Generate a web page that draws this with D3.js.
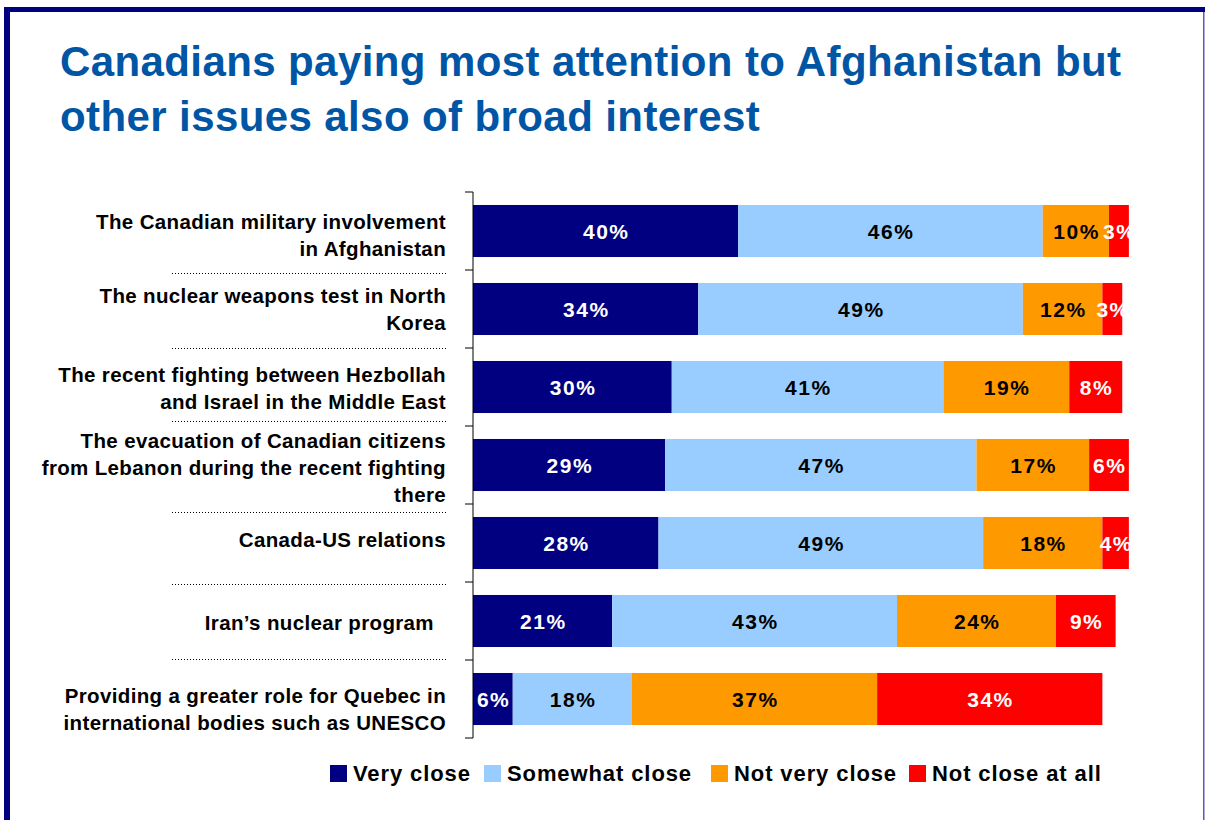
<!DOCTYPE html>
<html>
<head>
<meta charset="utf-8">
<script src="https://cdn.jsdelivr.net/npm/d3@7/dist/d3.min.js"></script>
<style>
  html, body { margin: 0; padding: 0; background: #fff; }
  svg { display: block; font-family: "Liberation Sans", Arial, Helvetica, sans-serif; }
</style>
</head>
<body>
<svg id="chart" width="1205" height="820"></svg>
<script>
// ---- Data ----
const titleLines = ["Canadians paying most attention to Afghanistan but", "other issues also of broad interest"];
const categories = [
  ["The Canadian military involvement", "in Afghanistan"],
  ["The nuclear weapons test in North", "Korea"],
  ["The recent fighting between Hezbollah", "and Israel in the Middle East"],
  ["The evacuation of Canadian citizens", "from Lebanon during the recent fighting", "there"],
  ["Canada-US relations"],
  ["Iran\u2019s nuclear program\u00a0\u00a0"],
  ["Providing a greater role for Quebec in", "international bodies such as UNESCO"]
];
const seriesNames = ["Very close", "Somewhat close", "Not very close", "Not close at all"];
const veryClose      = [40, 34, 30, 29, 28, 21, 6];
const somewhatClose  = [46, 49, 41, 47, 49, 43, 18];
const notVeryClose   = [10, 12, 19, 17, 18, 24, 37];
const notCloseAtAll  = [3, 3, 8, 6, 4, 9, 34];
const seriesColors = ["#000080", "#99ccff", "#ff9900", "#ff0000"];
const labelColors  = ["#ffffff", "#000000", "#000000", "#ffffff"];

// ---- Layout ----
const svg = d3.select("#chart");
const W = 1205, H = 820;
const plot = { left: 473, top: 192, bottom: 738 };

// frame
svg.append("rect").attr("x", 4).attr("y", 7).attr("width", 6).attr("height", H - 7).attr("fill", "#000080");
svg.append("rect").attr("x", 4).attr("y", 7).attr("width", W - 4).attr("height", 5).attr("fill", "#000080");
svg.append("rect").attr("x", 1203).attr("y", 12).attr("width", 1.5).attr("height", H - 12).attr("fill", "#5a5ab4");

// title
svg.append("g").selectAll("text").data(titleLines).join("text")
  .attr("x", 60).attr("y", (d, i) => 76 + i * 55)
  .attr("font-size", 42).attr("font-weight", "bold").attr("fill", "#0055a5")
  .attr("letter-spacing", 0.4)
  .text(d => d);

const idx = d3.range(categories.length);
const y = d3.scaleBand().domain(idx).range([plot.top, plot.bottom]).paddingInner(0.333).paddingOuter(0.1665);
const x = d3.scaleLinear().domain([0, 100]).range([plot.left, plot.left + 662.5]);

const rows = idx.map(i => ({ i, vals: [veryClose[i], somewhatClose[i], notVeryClose[i], notCloseAtAll[i]] }));
const segs = [];
rows.forEach(r => {
  let acc = 0;
  r.vals.forEach((v, s) => { segs.push({ i: r.i, s, x0: acc, x1: acc + v, v }); acc += v; });
});

svg.append("g").selectAll("rect").data(segs).join("rect")
  .attr("x", d => x(d.x0)).attr("y", d => y(d.i))
  .attr("width", d => x(d.x1) - x(d.x0)).attr("height", y.bandwidth())
  .attr("fill", d => seriesColors[d.s]);

svg.append("g").selectAll("text").data(segs).join("text")
  .attr("x", d => (x(d.x0) + x(d.x1)) / 2 + 0.75)
  .attr("y", d => y(d.i) + y.bandwidth() / 2)
  .attr("dy", "0.36em")
  .attr("text-anchor", "middle")
  .attr("font-size", 21).attr("font-weight", "bold").attr("letter-spacing", 1.5)
  .attr("fill", d => labelColors[d.s])
  .text(d => d.v + "%");

// axis line with ticks at category boundaries
const step = y.step();
const boundaries = d3.range(categories.length + 1).map(k => plot.top + k * step);
svg.append("line").attr("x1", plot.left).attr("x2", plot.left).attr("y1", plot.top).attr("y2", plot.bottom)
  .attr("stroke", "#000").attr("stroke-width", 1);
svg.append("g").selectAll("line").data(boundaries).join("line")
  .attr("x1", plot.left - 8).attr("x2", plot.left).attr("y1", d => d).attr("y2", d => d)
  .attr("stroke", "#000").attr("stroke-width", 1);

// dotted separators under labels
const sepOffsets = [3, 0, -5, 8, 2, -1];
svg.append("g").selectAll("line").data(sepOffsets).join("line")
  .attr("x1", 172).attr("x2", 447)
  .attr("y1", (d, k) => boundaries[k + 1] + d + 0.5).attr("y2", (d, k) => boundaries[k + 1] + d + 0.5)
  .attr("stroke", "#000").attr("stroke-width", 1).attr("stroke-dasharray", "1,2");

// category labels
const lineH = 27;
const labelNudge = [4, 0, 1, 3, -3, 2, 10];
const lab = svg.append("g").selectAll("text").data(categories).join("text")
  .attr("text-anchor", "end").attr("font-size", 20.5).attr("font-weight", "bold").attr("fill", "#000")
  .attr("letter-spacing", 0.35)
  .style("white-space", "pre");
lab.each(function (lines, i) {
  const cy = y(i) + y.bandwidth() / 2 + labelNudge[i];
  const y0 = cy - (lines.length - 1) * lineH / 2;
  d3.select(this).selectAll("tspan").data(lines).join("tspan")
    .attr("x", 446).attr("y", (d, j) => y0 + j * lineH).attr("dy", "0.36em").text(d => d);
});

// legend
const legendX = [330, 484, 711, 909];
const lg = svg.append("g").selectAll("g").data(seriesNames).join("g")
  .attr("transform", (d, i) => `translate(${legendX[i]},765)`);
lg.append("rect").attr("width", 17).attr("height", 17).attr("fill", (d, i) => seriesColors[i]);
lg.append("text").attr("x", 23).attr("y", 8.5).attr("dy", "0.36em")
  .attr("font-size", 22).attr("font-weight", "bold").attr("letter-spacing", 0.9)
  .attr("fill", "#000").text(d => d);
</script>
</body>
</html>
